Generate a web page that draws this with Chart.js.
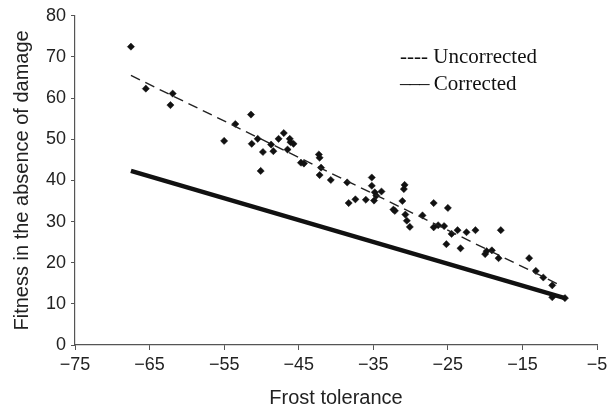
<!DOCTYPE html>
<html>
<head>
<meta charset="utf-8">
<script src="https://cdn.jsdelivr.net/npm/chart.js@4.4.0/dist/chart.umd.min.js"></script>
<style>
    html, body { margin: 0; padding: 0; background: #fff; }
    #wrap { position: relative; width: 616px; height: 417px; }
    .legend-row {
        position: absolute;
        left: 400px;
        font-family: 'Liberation Serif', 'Times New Roman', serif;
        font-size: 21px;
        line-height: 21px;
        color: #111;
        white-space: nowrap;
    }
    .legend-row .dash { letter-spacing: -1px; }
</style>
</head>
<body>
<div id="wrap">
    <canvas id="frost_chart" width="616" height="417"></canvas>
    <div class="legend-row" style="top: 46px;">---- Uncorrected</div>
    <div class="legend-row" style="top: 73px;"><span class="dash">–––</span> Corrected</div>
</div>
<script>
// observed genotypes: frost tolerance vs fitness
const frostTolerance = [
    -67.5, -65.5, -61.9, -62.2, -55.0, -53.5, -51.4, -51.3, -50.5, -49.8,
    -50.1, -48.7, -48.4, -47.7, -47.0, -46.2, -46.1, -45.7, -46.5, -44.7,
    -44.3, -42.3, -42.2, -42.0, -42.2, -40.7, -38.5, -35.2, -35.2, -34.8,
    -34.6, -33.9, -36.0, -37.4, -38.3, -34.9, -30.8, -30.9, -31.1, -32.3,
    -32.1, -30.7, -30.5, -30.1, -28.4, -26.9, -26.9, -26.3, -25.0, -25.5,
    -24.5, -23.7, -25.2, -23.3, -22.5, -21.3, -20.0, -19.8, -19.1, -18.2,
    -17.9, -14.1, -13.2, -12.2, -11.0, -11.0, -9.3
];
const fitness = [
    72.5, 62.3, 61.1, 58.3, 49.6, 53.7, 56.0, 48.9, 50.1, 46.9,
    42.3, 48.7, 47.1, 50.1, 51.5, 50.1, 49.3, 48.9, 47.5, 44.3,
    44.1, 46.3, 45.5, 43.1, 41.3, 40.1, 39.5, 40.7, 38.7, 37.1,
    36.3, 37.3, 35.3, 35.4, 34.5, 35.1, 38.9, 37.9, 35.0, 32.9,
    32.6, 31.7, 30.2, 28.7, 31.5, 34.5, 28.6, 29.1, 33.3, 28.9,
    27.0, 27.9, 24.5, 23.5, 27.4, 27.9, 22.1, 22.8, 23.0, 21.1,
    27.9, 21.1, 18.0, 16.4, 14.5, 11.6, 11.4
];

// regression lines (end points)
const uncorrectedX = [-67.5, -10.0];
const uncorrectedY = [65.5, 14.6];
const correctedX = [-67.5, -9.3];
const correctedY = [42.3, 11.4];

const xTicks = [-75, -65, -55, -45, -35, -25, -15, -5];
const yTicks = [0, 10, 20, 30, 40, 50, 60, 70, 80];

const toPoints = (xs, ys) => xs.map((x, i) => ({ x: x, y: ys[i] }));
const minus = v => (v < 0 ? '\u2212' + Math.abs(v) : String(v));

const axisColor = '#555';
const tickFont = { family: "'Liberation Sans', Arial, sans-serif", size: 18 };
const titleFont = { family: "'Liberation Sans', Arial, sans-serif", size: 20 };

new Chart(document.getElementById('frost_chart'), {
    type: 'scatter',
    data: {
        datasets: [
            {
                type: 'line',
                label: 'Uncorrected',
                data: toPoints(uncorrectedX, uncorrectedY),
                borderColor: '#222',
                borderWidth: 1.4,
                borderDash: [10, 6],
                pointRadius: 0,
                fill: false
            },
            {
                type: 'line',
                label: 'Corrected',
                data: toPoints(correctedX, correctedY),
                borderColor: '#111',
                borderWidth: 4.5,
                pointRadius: 0,
                fill: false
            },
            {
                label: 'Genotypes',
                data: toPoints(frostTolerance, fitness),
                pointStyle: 'rectRot',
                pointRadius: 3.6,
                backgroundColor: '#111',
                borderColor: '#111',
                borderWidth: 0.5
            }
        ]
    },
    options: {
        responsive: false,
        animation: false,
        devicePixelRatio: 1,
        layout: { padding: { top: 11, right: 19, left: 0, bottom: 0 } },
        plugins: {
            legend: { display: false },
            tooltip: { enabled: false }
        },
        scales: {
            x: {
                type: 'linear',
                min: -75,
                max: -5,
                afterBuildTicks: axis => { axis.ticks = xTicks.map(v => ({ value: v })); },
                afterFit: axis => { axis.height = 72; },
                border: { display: true, color: axisColor, width: 1.2 },
                grid: { display: true, drawOnChartArea: false, drawTicks: true, tickLength: 5, color: axisColor },
                ticks: { color: '#222', font: tickFont, padding: 4, maxRotation: 0, callback: v => minus(v) },
                title: { display: true, text: 'Frost tolerance', color: '#222', font: titleFont, padding: { top: 0, bottom: 7 } }
            },
            y: {
                type: 'linear',
                min: 0,
                max: 80,
                afterBuildTicks: axis => { axis.ticks = yTicks.map(v => ({ value: v })); },
                afterFit: axis => { axis.width = 75; },
                border: { display: true, color: axisColor, width: 1.2 },
                grid: { display: true, drawOnChartArea: false, drawTicks: true, tickLength: 4, color: axisColor },
                ticks: { color: '#222', font: tickFont, padding: 5 },
                title: { display: true, text: 'Fitness in the absence of damage', color: '#222', font: titleFont, padding: { top: 10, bottom: 0 } }
            }
        }
    }
});
</script>
</body>
</html>
